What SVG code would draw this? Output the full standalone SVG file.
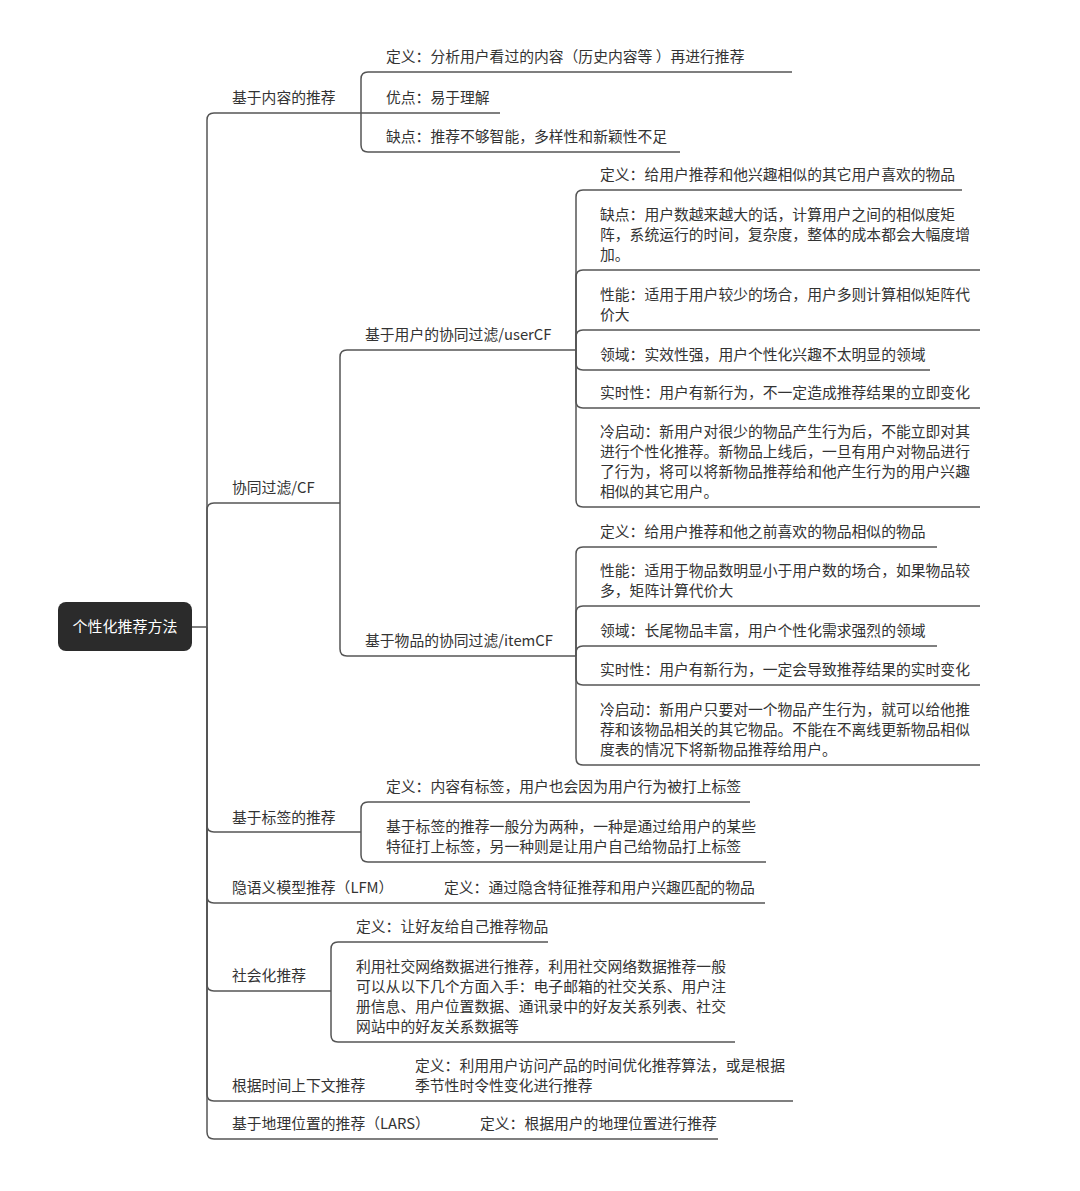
<svg xmlns="http://www.w3.org/2000/svg" width="1080" height="1191" viewBox="0 0 1080 1191">
<style>
.t{font-family:"Noto Sans CJK SC","Liberation Sans",sans-serif;font-size:14.8px;fill:#333}
.r{font-family:"Noto Sans CJK SC","Liberation Sans",sans-serif;font-size:15px;fill:#fff}
.c{fill:none;stroke:#555;stroke-width:1.5}
</style>
<rect width="1080" height="1191" fill="#fff"/>
<g id="connectors">
<path class="c" d="M192,627 H207"/>
<path class="c" d="M207,627 V120 Q207,113 214,113 H500"/>
<path class="c" d="M207,627 V510 Q207,503 214,503 H340"/>
<path class="c" d="M207,627 V825 Q207,832 214,832 H361"/>
<path class="c" d="M207,627 V896 Q207,903 214,903 H765"/>
<path class="c" d="M207,627 V984 Q207,991 214,991 H331"/>
<path class="c" d="M207,627 V1094 Q207,1101 214,1101 H793"/>
<path class="c" d="M207,627 V1132 Q207,1139 214,1139 H718"/>
<path class="c" d="M361,113 V79 Q361,72 368,72 H792"/>
<path class="c" d="M361,113 V145 Q361,152 368,152 H680"/>
<path class="c" d="M340,503 V357 Q340,350 347,350 H576"/>
<path class="c" d="M340,503 V649 Q340,656 347,656 H576"/>
<path class="c" d="M576,350 V197 Q576,190 583,190 H962"/>
<path class="c" d="M576,350 V277 Q576,270 583,270 H980"/>
<path class="c" d="M576,350 V337 Q576,330 583,330 H980"/>
<path class="c" d="M576,350 V363 Q576,370 583,370 H930"/>
<path class="c" d="M576,350 V401 Q576,408 583,408 H980"/>
<path class="c" d="M576,350 V500 Q576,507 583,507 H980"/>
<path class="c" d="M576,656 V554 Q576,547 583,547 H937"/>
<path class="c" d="M576,656 V613 Q576,606 583,606 H980"/>
<path class="c" d="M576,656 V653 Q576,646 583,646 H937"/>
<path class="c" d="M576,656 V678 Q576,685 583,685 H980"/>
<path class="c" d="M576,656 V758 Q576,765 583,765 H980"/>
<path class="c" d="M361,832 V809 Q361,802 368,802 H750"/>
<path class="c" d="M361,832 V855 Q361,862 368,862 H766"/>
<path class="c" d="M331,991 V949 Q331,942 338,942 H548"/>
<path class="c" d="M331,991 V1035 Q331,1042 338,1042 H735"/>
</g>
<g id="root">
<rect x="58" y="602" width="134" height="49" rx="8" fill="#2b2b2b"/>
<text class="r" x="125" y="632" text-anchor="middle">个性化推荐方法</text>
</g>
<g id="content-based">
<text class="t" x="232" y="103">基于内容的推荐</text>
<text class="t" x="386" y="62">定义：分析用户看过的内容（历史内容等 ）再进行推荐</text>
<text class="t" x="386" y="103">优点：易于理解</text>
<text class="t" x="386" y="142">缺点：推荐不够智能，多样性和新颖性不足</text>
</g>
<g id="cf">
<text class="t" x="232" y="493">协同过滤/CF</text>
</g>
<g id="usercf">
<text class="t" x="365" y="340">基于用户的协同过滤/userCF</text>
<text class="t" x="600" y="180">定义：给用户推荐和他兴趣相似的其它用户喜欢的物品</text>
<text class="t" x="600" y="220">缺点：用户数越来越大的话，计算用户之间的相似度矩</text>
<text class="t" x="600" y="240">阵，系统运行的时间，复杂度，整体的成本都会大幅度增</text>
<text class="t" x="600" y="260">加。</text>
<text class="t" x="600" y="300">性能：适用于用户较少的场合，用户多则计算相似矩阵代</text>
<text class="t" x="600" y="320">价大</text>
<text class="t" x="600" y="360">领域：实效性强，用户个性化兴趣不太明显的领域</text>
<text class="t" x="600" y="398">实时性：用户有新行为，不一定造成推荐结果的立即变化</text>
<text class="t" x="600" y="437">冷启动：新用户对很少的物品产生行为后，不能立即对其</text>
<text class="t" x="600" y="457">进行个性化推荐。新物品上线后，一旦有用户对物品进行</text>
<text class="t" x="600" y="477">了行为，将可以将新物品推荐给和他产生行为的用户兴趣</text>
<text class="t" x="600" y="497">相似的其它用户。</text>
</g>
<g id="itemcf">
<text class="t" x="365" y="646">基于物品的协同过滤/itemCF</text>
<text class="t" x="600" y="537">定义：给用户推荐和他之前喜欢的物品相似的物品</text>
<text class="t" x="600" y="576">性能：适用于物品数明显小于用户数的场合，如果物品较</text>
<text class="t" x="600" y="596">多，矩阵计算代价大</text>
<text class="t" x="600" y="636">领域：长尾物品丰富，用户个性化需求强烈的领域</text>
<text class="t" x="600" y="675">实时性：用户有新行为，一定会导致推荐结果的实时变化</text>
<text class="t" x="600" y="715">冷启动：新用户只要对一个物品产生行为，就可以给他推</text>
<text class="t" x="600" y="735">荐和该物品相关的其它物品。不能在不离线更新物品相似</text>
<text class="t" x="600" y="755">度表的情况下将新物品推荐给用户。</text>
</g>
<g id="tag">
<text class="t" x="232" y="823">基于标签的推荐</text>
<text class="t" x="386" y="792">定义：内容有标签，用户也会因为用户行为被打上标签</text>
<text class="t" x="386" y="832">基于标签的推荐一般分为两种，一种是通过给用户的某些</text>
<text class="t" x="386" y="852">特征打上标签，另一种则是让用户自己给物品打上标签</text>
</g>
<g id="lfm">
<text class="t" x="232" y="893">隐语义模型推荐（LFM）</text>
<text class="t" x="444" y="893">定义：通过隐含特征推荐和用户兴趣匹配的物品</text>
</g>
<g id="social">
<text class="t" x="232" y="981">社会化推荐</text>
<text class="t" x="356" y="932">定义：让好友给自己推荐物品</text>
<text class="t" x="356" y="972">利用社交网络数据进行推荐，利用社交网络数据推荐一般</text>
<text class="t" x="356" y="992">可以从以下几个方面入手：电子邮箱的社交关系、用户注</text>
<text class="t" x="356" y="1012">册信息、用户位置数据、通讯录中的好友关系列表、社交</text>
<text class="t" x="356" y="1032">网站中的好友关系数据等</text>
</g>
<g id="time">
<text class="t" x="232" y="1091">根据时间上下文推荐</text>
<text class="t" x="415" y="1071">定义：利用用户访问产品的时间优化推荐算法，或是根据</text>
<text class="t" x="415" y="1091">季节性时令性变化进行推荐</text>
</g>
<g id="lars">
<text class="t" x="232" y="1129">基于地理位置的推荐（LARS）</text>
<text class="t" x="480" y="1129">定义：根据用户的地理位置进行推荐</text>
</g>
</svg>
